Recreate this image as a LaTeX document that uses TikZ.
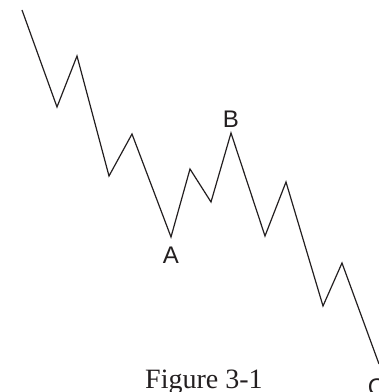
\documentclass[tikz,border=0pt]{standalone}
\usepackage{fontspec}
\setmainfont{Liberation Serif}
\newfontfamily\labelfont{Liberation Sans}
\usetikzlibrary{positioning}
\definecolor{ink}{HTML}{231F20}

\begin{document}
\begin{tikzpicture}[x=1pt,y=1pt,
  wave/.style={draw=ink,line width=1.2pt},
  pointlabel/.style={inner sep=0pt,text=ink,font=\labelfont\fontsize{24}{24}\selectfont},
  caption/.style={inner sep=0pt,text=ink,font=\fontsize{28}{28}\selectfont}]
\useasboundingbox (0,0) rectangle (379,392);
% turning points of the wave
\coordinate (p0) at (22,382);
\coordinate (p1) at (57,285);
\coordinate (p2) at (77,336);
\coordinate (p3) at (109,216);
\coordinate (p4) at (132,258);
\coordinate (a) at (171,155);
\coordinate (p6) at (190,223);
\coordinate (p7) at (211,190);
\coordinate (b) at (231,259);
\coordinate (p9) at (265,156);
\coordinate (p10) at (286,210);
\coordinate (p11) at (323,86);
\coordinate (p12) at (342,129);
\coordinate (c) at (379,28);
\draw[wave] (p0) -- (p1) -- (p2) -- (p3) -- (p4) -- (a) -- (p6) -- (p7) -- (b)
  -- (p9) -- (p10) -- (p11) -- (p12) -- (c);
% labels
\node[pointlabel,below=10pt of a] (la) {A};
\node[pointlabel,above=5pt of b] (lb) {B};
\node[pointlabel,below=15pt of c,xshift=-2.5pt] (lc) {C};
\node[caption,anchor=base west] (fig) at (145,3) {Figure 3-1};
\end{tikzpicture}
\end{document}
